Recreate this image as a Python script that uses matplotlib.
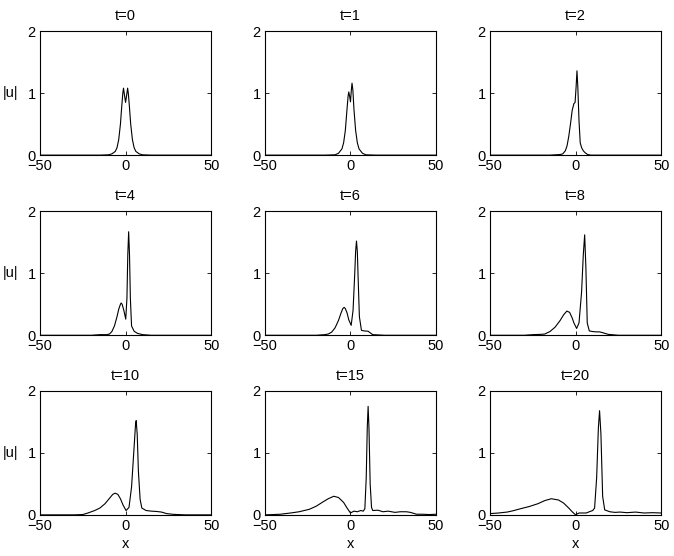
import matplotlib
matplotlib.use('Agg')
import matplotlib.pyplot as plt

plt.rcParams['font.family'] = ['Liberation Sans', 'DejaVu Sans']
plt.rcParams['font.size'] = 10.5

# Valores: |u| frente a x en cada instante
titulos = ['t=0', 't=1', 't=2', 't=4', 't=6', 't=8', 't=10', 't=15', 't=20']

x_t0 = [-50, -15, -10, -8, -6, -5, -4, -3, -2.2, -1.6, -1.2, -0.7, 0, 0.7, 1.2, 1.6, 2.2, 3, 4, 5, 6, 8, 10, 15, 50]
u_t0 = [0, 0, 0.005, 0.02, 0.06, 0.12, 0.25, 0.5, 0.8, 1.0, 1.08, 0.98, 0.85, 0.98, 1.08, 1.0, 0.8, 0.5, 0.25, 0.12, 0.06, 0.02, 0.005, 0, 0]

x_t1 = [-50, -15, -9, -7, -5, -4, -3, -2, -1.4, -1, -0.5, 0, 0.5, 0.9, 1.4, 2, 3, 4, 5, 7, 9, 15, 50]
u_t1 = [0, 0, 0.005, 0.03, 0.1, 0.2, 0.4, 0.75, 0.95, 1.02, 0.95, 0.86, 1.05, 1.16, 1.05, 0.75, 0.4, 0.2, 0.1, 0.03, 0.005, 0, 0]

x_t2 = [-50, -15, -9, -7.5, -6, -5, -4, -3, -2, -1, -0.3, 0.3, 0.8, 1.3, 2, 2.7, 3.5, 4.5, 5.5, 7, 9, 50]
u_t2 = [0, 0, 0.01, 0.02, 0.07, 0.15, 0.3, 0.5, 0.72, 0.83, 0.85, 1.1, 1.36, 1.1, 0.55, 0.2, 0.12, 0.07, 0.04, 0.01, 0, 0]

x_t4 = [-50, -20, -15, -11, -9.4, -8, -6.5, -5, -4, -3, -2.6, -2, -1, 0.1, 0.8, 1.3, 1.8, 2.3, 2.8, 3.5, 5, 7, 10, 15, 50]
u_t4 = [0, 0, 0.01, 0.01, 0.02, 0.06, 0.15, 0.3, 0.42, 0.5, 0.52, 0.5, 0.4, 0.26, 0.6, 1.3, 1.67, 1.3, 0.6, 0.15, 0.065, 0.03, 0.01, 0, 0]

x_t6 = [-50, -20, -15, -13, -11, -9, -7, -5.5, -4.5, -3.7, -3, -2, -1, 0.4, 1.5, 2.5, 3, 3.5, 4, 4.5, 5.2, 6.4, 8, 10.3, 11.5, 13, 20, 50]
u_t6 = [0, 0, 0.01, 0.02, 0.05, 0.12, 0.24, 0.36, 0.43, 0.45, 0.43, 0.36, 0.25, 0.16, 0.4, 1.0, 1.35, 1.52, 1.35, 0.9, 0.3, 0.08, 0.07, 0.065, 0.04, 0.01, 0, 0]

x_t8 = [-50, -30, -25, -20, -18, -15, -12, -9, -7, -5.1, -3.5, -2, -1, 0.6, 2, 3.5, 4.5, 5.3, 6, 6.8, 8, 10, 12, 14, 16, 19, 25, 50]
u_t8 = [0, 0, 0.01, 0.015, 0.02, 0.06, 0.13, 0.24, 0.33, 0.39, 0.37, 0.28, 0.2, 0.11, 0.2, 0.7, 1.3, 1.62, 1.1, 0.2, 0.07, 0.06, 0.055, 0.055, 0.04, 0.015, 0, 0]

x_t10 = [-50, -30, -25, -22, -18, -15, -12, -9, -7.5, -6.1, -4.5, -3, -1.5, 0.3, 2, 3.5, 5, 5.8, 6.2, 6.8, 7.5, 8.5, 9.5, 12, 15, 18, 21, 24, 28, 35, 50]
u_t10 = [0, 0, 0.005, 0.03, 0.07, 0.11, 0.18, 0.28, 0.33, 0.35, 0.33, 0.26, 0.16, 0.07, 0.12, 0.45, 1.1, 1.45, 1.52, 1.3, 0.7, 0.25, 0.11, 0.07, 0.06, 0.055, 0.045, 0.02, 0.008, 0, 0]

x_t15 = [-50, -45, -41, -35, -30, -24, -20, -16, -13, -9.8, -7, -4, -2, 0, 2, 4, 6, 7.5, 8.4, 9.2, 9.8, 10.3, 10.8, 11.5, 12.3, 13, 16, 19, 22, 26, 29, 32.7, 35, 38.6, 42, 46, 50]
u_t15 = [0, 0.005, 0.01, 0.03, 0.05, 0.09, 0.14, 0.21, 0.26, 0.3, 0.28, 0.2, 0.11, 0.03, 0.06, 0.05, 0.07, 0.06, 0.1, 0.6, 1.4, 1.75, 1.4, 0.5, 0.12, 0.07, 0.075, 0.05, 0.06, 0.04, 0.05, 0.05, 0.04, 0.01, 0.01, 0.005, 0.01]

x_t20 = [-50, -45, -40, -36.7, -32, -27, -22, -18, -14.2, -10, -7, -4, -2, 0, 2, 4, 6.2, 8, 10, 11.1, 12.3, 13.3, 14, 14.8, 15.8, 17, 20, 23, 26, 30, 35, 40, 45, 50]
u_t20 = [0.02, 0.03, 0.045, 0.065, 0.1, 0.135, 0.18, 0.23, 0.26, 0.24, 0.19, 0.11, 0.05, 0.0, 0.03, 0.03, 0.03, 0.05, 0.07, 0.11, 0.6, 1.4, 1.68, 1.3, 0.3, 0.08, 0.05, 0.04, 0.045, 0.035, 0.045, 0.03, 0.035, 0.03]

curvas = [(x_t0, u_t0), (x_t1, u_t1), (x_t2, u_t2),
          (x_t4, u_t4), (x_t6, u_t6), (x_t8, u_t8),
          (x_t10, u_t10), (x_t15, u_t15), (x_t20, u_t20)]

fig = plt.figure(figsize=(6.74, 5.56), dpi=100)

izquierdas = [0.0593, 0.393, 0.727]
fondos = [0.721, 0.397, 0.074]
ancho, alto = 0.254, 0.223

for i, (xs, us) in enumerate(curvas):
    fila, col = divmod(i, 3)
    ax = fig.add_axes([izquierdas[col], fondos[fila], ancho, alto])
    ax.plot(xs, us, color='black', linewidth=0.8)
    ax.set_xlim(-50, 50)
    ax.set_ylim(0, 2)
    ax.set_xticks([-50, 0, 50])
    ax.set_yticks([0, 1, 2])
    ax.tick_params(direction='in', top=True, right=True, length=3, width=0.6, pad=3)
    for lado in ax.spines.values():
        lado.set_linewidth(0.8)
    ax.set_title(titulos[i], fontsize=10.5, pad=8)
    if col == 0:
        ax.set_ylabel('|u|', rotation=0, labelpad=12, va='center')
    if fila == 2:
        ax.set_xlabel('x', labelpad=3)

fig.savefig('out.png', dpi=100)
